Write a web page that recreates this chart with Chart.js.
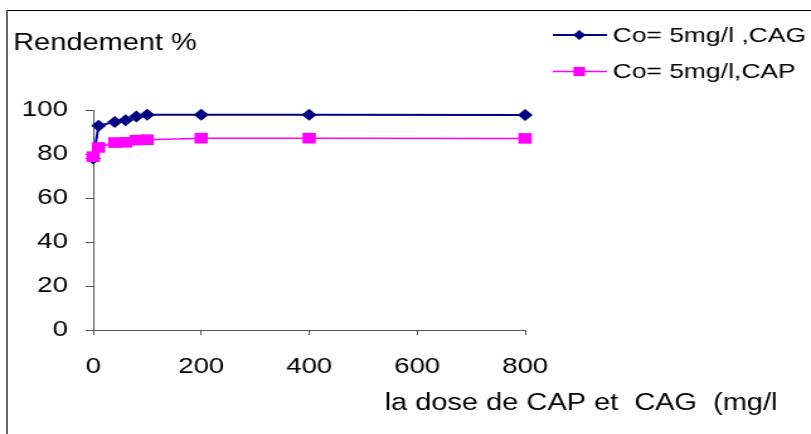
<!DOCTYPE html>
<html>
<head>
<meta charset="utf-8">
<script src="https://cdn.jsdelivr.net/npm/chart.js@4/dist/chart.umd.min.js"></script>
<style>
  html, body { margin: 0; padding: 0; background: #fff; overflow: hidden; }
  /* the original picture is stretched sideways, so draw narrow and widen */
  #wrap { width: 644px; height: 434px; transform: scaleX(1.2593); transform-origin: 0 0; }
</style>
</head>
<body>
<div id="wrap"><canvas id="chart" width="644" height="434"></canvas></div>
<script>
// data
const dosesCAG = [0, 10, 40, 60, 80, 100, 200, 400, 800];
const rendCAG  = [78, 92.8, 94.6, 95.3, 97, 97.8, 97.8, 97.8, 97.7];
const dosesCAP = [0, 10, 40, 60, 80, 100, 200, 400, 800];
const rendCAP  = [78.8, 83, 85.2, 85.3, 86.3, 86.5, 87.2, 87.2, 87.1];
const labelCAG = 'Co= 5mg/l ,CAG';
const labelCAP = 'Co= 5mg/l,CAP';
const yTitle = 'Rendement %';
const xTitle = 'la dose de CAP et  CAG  (mg/l';
const xTicks = [0, 200, 400, 600, 800];
const yTicks = [0, 20, 40, 60, 80, 100];

const FONT = '"Liberation Sans", Arial, sans-serif';
Chart.defaults.font.family = FONT;
Chart.defaults.color = '#000';

function toPoints(xs, ys) {
    const pts = [];
    for (var i = 0; i < xs.length; i++)
        pts.push({x: xs[i], y: ys[i]});
    return pts;
}

function marker(ctx, style, x, y, r) {
    ctx.beginPath();
    if (style == 'rectRot') {
        ctx.moveTo(x, y - r); ctx.lineTo(x + r, y); ctx.lineTo(x, y + r); ctx.lineTo(x - r, y);
    } else {
        const s = r * Math.SQRT1_2;
        ctx.rect(x - s, y - s, 2 * s, 2 * s);
    }
    ctx.closePath();
    ctx.fill();
}

const extras = {
    id: 'extras',
    beforeDraw(chart) {
        const ctx = chart.ctx;
        ctx.save();
        ctx.fillStyle = '#fff';
        ctx.fillRect(0, 0, chart.width, chart.height);
        ctx.restore();
    },
    afterDraw(chart) {
        const ctx = chart.ctx;
        ctx.save();
        // outer frame (runs off right and bottom)
        ctx.strokeStyle = '#000';
        ctx.lineWidth = 1;
        ctx.beginPath();
        ctx.moveTo(5.5, chart.height + 2);
        ctx.lineTo(5.5, 10.5);
        ctx.lineTo(chart.width + 2, 10.5);
        ctx.stroke();
        // titles
        ctx.fillStyle = '#000';
        ctx.textBaseline = 'alphabetic';
        ctx.textAlign = 'left';
        ctx.font = '23px ' + FONT;
        ctx.fillText(yTitle, 10.5, 50);
        ctx.fillText(xTitle, 305.5, 410);
        // legend
        ctx.font = '21px ' + FONT;
        chart.data.datasets.forEach(function(ds, i) {
            const y = 35 + i * 36.5;
            ctx.strokeStyle = ds.borderColor;
            ctx.lineWidth = ds.borderWidth;
            ctx.beginPath();
            ctx.moveTo(439, y);
            ctx.lineTo(482, y);
            ctx.stroke();
            ctx.fillStyle = ds.backgroundColor;
            marker(ctx, ds.pointStyle, 460, y, ds.pointStyle == 'rectRot' ? 5 : 6.5);
            ctx.fillStyle = '#000';
            ctx.fillText(ds.label, 486.5, y + 6.5);
        });
        ctx.restore();
    }
};

new Chart(document.getElementById('chart'), {
    type: 'scatter',
    data: {
        datasets: [{
            label: labelCAG,
            data: toPoints(dosesCAG, rendCAG),
            showLine: true,
            borderColor: '#000080',
            backgroundColor: '#000080',
            borderWidth: 2,
            pointStyle: 'rectRot',
            pointRadius: 6,
            pointBorderWidth: 0,
            clip: false,
            order: 1
        }, {
            label: labelCAP,
            data: toPoints(dosesCAP, rendCAP),
            showLine: true,
            borderColor: '#FF00FF',
            backgroundColor: '#FF00FF',
            borderWidth: 1.5,
            pointStyle: 'rect',
            pointRadius: 7.5,
            pointBorderWidth: 0,
            clip: false,
            order: 0
        }]
    },
    options: {
        responsive: false,
        animation: false,
        events: [],
        layout: { padding: { left: 0, top: 110, right: 227, bottom: 0 } },
        plugins: { legend: { display: false }, tooltip: { enabled: false } },
        scales: {
            x: {
                type: 'linear',
                min: 0, max: 800,
                afterFit: function(scale) { scale.height = 104; },
                afterBuildTicks: function(scale) { scale.ticks = xTicks.map(v => ({value: v})); },
                ticks: { font: { size: 22 }, padding: 19, maxRotation: 0 },
                grid: { drawOnChartArea: false, tickLength: 5, color: '#555' },
                border: { color: '#555', width: 1 }
            },
            y: {
                min: 0, max: 100,
                afterFit: function(scale) { scale.width = 74; },
                afterBuildTicks: function(scale) { scale.ticks = yTicks.map(v => ({value: v})); },
                ticks: { font: { size: 22 }, padding: 14 },
                grid: { drawOnChartArea: false, tickLength: 6, color: '#555' },
                border: { color: '#555', width: 1 }
            }
        }
    },
    plugins: [extras]
});
</script>
</body>
</html>
